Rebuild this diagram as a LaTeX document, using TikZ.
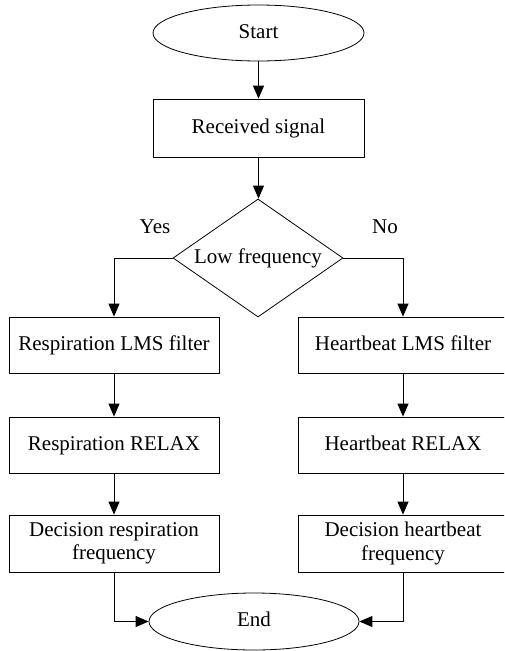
\documentclass[tikz,border=0pt]{standalone}
\usepackage{fontspec}
\setmainfont{Liberation Serif}
\usetikzlibrary{shapes.geometric,arrows.meta}
\begin{document}
\begin{tikzpicture}[x=1pt,y=-1pt,
  txt/.style={font=\fontsize{21}{23.5}\selectfont, text=black},
  one/.style={text height=14.5pt, text depth=4.5pt},
  term/.style={txt, one, ellipse, draw, line width=0.8pt, inner sep=0pt, minimum width=211pt, minimum height=56pt},
  proc/.style={txt, rectangle, draw, line width=0.8pt, inner sep=0pt, align=center, minimum width=210pt, minimum height=56pt},
  dec/.style={txt, one, diamond, draw, line width=0.8pt, inner sep=0pt, aspect=1.44, minimum width=170pt, minimum height=118pt},
  lbl/.style={txt, one, inner sep=0pt},
  arr/.style={line width=1pt, -{Triangle[length=13pt,width=11pt]}}
]
\useasboundingbox (0,0) rectangle (504,651);
\clip (0,0) rectangle (504,651);
\node[term] (start) at (258.5,33) {Start};
\node[proc, one, minimum width=211pt, minimum height=58pt] (recv) at (258.5,128) {Received signal};
\node[dec] (low) at (258,258) {Low frequency};
\node[lbl] (yes) at (155,228) {Yes};
\node[lbl] (no) at (385,228) {No};
\node[proc, one] (l1) at (114,345) {Respiration LMS filter};
\node[proc, one] (l2) at (114,445) {Respiration RELAX};
\node[proc, minimum height=57pt] (l3) at (114,543.5) {Decision respiration\\frequency};
\node[proc, one] (r1) at (403,345) {Heartbeat LMS filter};
\node[proc, one] (r2) at (403,445) {Heartbeat RELAX};
\node[proc, minimum height=57pt] (r3) at (403,543.5) {Decision heartbeat\\frequency};
\node[term, minimum width=210pt, minimum height=57pt] (end) at (254,621.5) {End};
\draw[arr] (start) -- (recv);
\draw[arr] (recv) -- (recv.south |- low.north);
\draw[arr] (low.west) -| (l1.north);
\draw[arr] (low.east) -| (r1.north);
\draw[arr] (l1) -- (l2);
\draw[arr] (l2) -- (l3);
\draw[arr] (r1) -- (r2);
\draw[arr] (r2) -- (r3);
\draw[arr] (l3.south) |- (end.west);
\draw[arr] (r3.south) |- (end.east);
\end{tikzpicture}
\end{document}
